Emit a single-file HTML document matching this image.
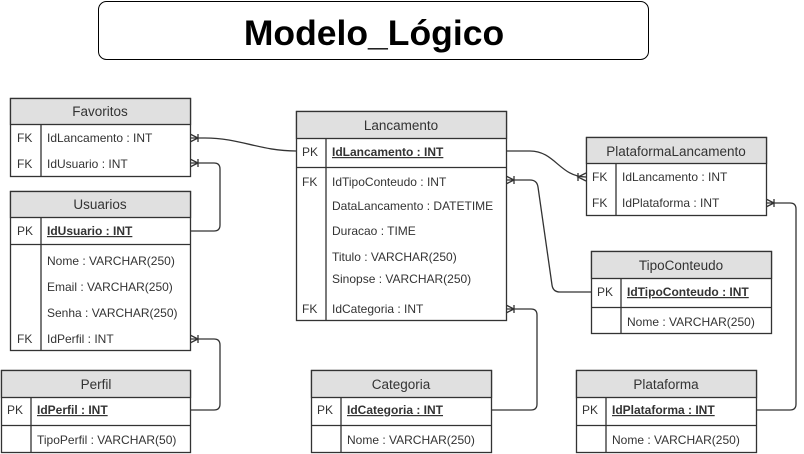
<!DOCTYPE html>
<html><head><meta charset="utf-8"><style>
html,body{margin:0;padding:0;background:#fff}
svg{display:block}
text{font-family:"Liberation Sans",Arial,sans-serif;font-size:12px;fill:#333}
.h{font-size:13.5px;text-anchor:middle}
.pk{font-weight:bold;text-decoration:underline}
</style></head><body>
<svg width="804" height="454" viewBox="0 0 804 454" xmlns="http://www.w3.org/2000/svg">
<rect x="98.5" y="1.5" width="550" height="58" rx="8" fill="#fff" stroke="#000"/>
<text x="374" y="45" style="font-size:35.5px;font-weight:bold;fill:#000;text-anchor:middle">Modelo_Lógico</text>

<g fill="none" stroke="#333" stroke-width="1.3">
<path d="M190,138 L205,138 C240,138 260,151 296,151"/>
<path d="M190,163 L214,163 Q220,163 220,169 L220,225 Q220,231 214,231 L190,231"/>
<path d="M190,339 L214,339 Q220,339 220,345 L220,404 Q220,410 214,410 L190,410"/>
<path d="M506,151 L530,151 C555,151 560,177 586,177"/>
<path d="M506,180 L530,180 Q537,180 538,187 L552,285 Q553,292 560,292 L591,292"/>
<path d="M506,309 L531,309 Q537,309 537,315 L537,404 Q537,410 531,410 L491,410"/>
<path d="M766,203 L790,203 Q796,203 796,209 L796,404 Q796,410 790,410 L756,410"/>
<path d="M190,134 L198,138 L190,142 M198,134 L198,142"/>
<path d="M190,159 L198,163 L190,167 M198,159 L198,167"/>
<path d="M190,335 L198,339 L190,343 M198,335 L198,343"/>
<path d="M506,176 L514,180 L506,184 M514,176 L514,184"/>
<path d="M506,305 L514,309 L506,313 M514,305 L514,313"/>
<path d="M766,199 L774,203 L766,207 M774,199 L774,207"/>
<path d="M586,173 L578,177 L586,181 M578,173 L578,181"/>
</g>

<g stroke="#333" stroke-width="1.3">
<rect x="10.5" y="98.5" width="180" height="78" fill="#fff"/>
<rect x="10.5" y="98.5" width="180" height="26" fill="#e0e0e0"/>
<line x1="41" y1="124.5" x2="41" y2="176.5"/>
<rect x="10.5" y="191.5" width="180" height="159" fill="#fff"/>
<rect x="10.5" y="191.5" width="180" height="26" fill="#e0e0e0"/>
<line x1="10.5" y1="244.5" x2="190.5" y2="244.5"/>
<line x1="41" y1="217.5" x2="41" y2="350.5"/>
<rect x="296.5" y="111.5" width="210" height="209" fill="#fff"/>
<rect x="296.5" y="111.5" width="210" height="27" fill="#e0e0e0"/>
<line x1="296.5" y1="167.5" x2="506.5" y2="167.5"/>
<line x1="326" y1="138.5" x2="326" y2="320.5"/>
<rect x="586.5" y="137.5" width="180" height="78" fill="#fff"/>
<rect x="586.5" y="137.5" width="180" height="26" fill="#e0e0e0"/>
<line x1="616" y1="163.5" x2="616" y2="215.5"/>
<rect x="591.5" y="251.5" width="180" height="82" fill="#fff"/>
<rect x="591.5" y="251.5" width="180" height="27" fill="#e0e0e0"/>
<line x1="591.5" y1="307.5" x2="771.5" y2="307.5"/>
<line x1="621" y1="278.5" x2="621" y2="333.5"/>
<rect x="1.5" y="370.5" width="189" height="82" fill="#fff"/>
<rect x="1.5" y="370.5" width="189" height="27" fill="#e0e0e0"/>
<line x1="1.5" y1="425.5" x2="190.5" y2="425.5"/>
<line x1="31" y1="397.5" x2="31" y2="452.5"/>
<rect x="311.5" y="370.5" width="180" height="82" fill="#fff"/>
<rect x="311.5" y="370.5" width="180" height="27" fill="#e0e0e0"/>
<line x1="311.5" y1="425.5" x2="491.5" y2="425.5"/>
<line x1="341" y1="397.5" x2="341" y2="452.5"/>
<rect x="576.5" y="370.5" width="180" height="82" fill="#fff"/>
<rect x="576.5" y="370.5" width="180" height="27" fill="#e0e0e0"/>
<line x1="576.5" y1="425.5" x2="756.5" y2="425.5"/>
<line x1="606" y1="397.5" x2="606" y2="452.5"/>
</g>

<text class="h" x="100" y="116">Favoritos</text>
<text x="17" y="142">FK</text><text x="47" y="142">IdLancamento : INT</text>
<text x="17" y="168">FK</text><text x="47" y="168">IdUsuario : INT</text>

<text class="h" x="100" y="209">Usuarios</text>
<text x="17" y="235">PK</text><text class="pk" x="47" y="235">IdUsuario : INT</text>
<text x="47" y="265">Nome : VARCHAR(250)</text>
<text x="47" y="291">Email : VARCHAR(250)</text>
<text x="47" y="317">Senha : VARCHAR(250)</text>
<text x="17" y="343">FK</text><text x="47" y="343">IdPerfil : INT</text>

<text class="h" x="401" y="130">Lancamento</text>
<text x="302" y="156">PK</text><text class="pk" x="332" y="156">IdLancamento : INT</text>
<text x="302" y="186">FK</text><text x="332" y="186">IdTipoConteudo : INT</text>
<text x="332" y="210">DataLancamento : DATETIME</text>
<text x="332" y="235">Duracao : TIME</text>
<text x="332" y="261">Titulo : VARCHAR(250)</text>
<text x="332" y="283">Sinopse : VARCHAR(250)</text>
<text x="302" y="313">FK</text><text x="332" y="313">IdCategoria : INT</text>

<text class="h" x="676" y="156">PlataformaLancamento</text>
<text x="592" y="181">FK</text><text x="622" y="181">IdLancamento : INT</text>
<text x="592" y="207">FK</text><text x="622" y="207">IdPlataforma : INT</text>

<text class="h" x="681" y="270">TipoConteudo</text>
<text x="597" y="296">PK</text><text class="pk" x="627" y="296">IdTipoConteudo : INT</text>
<text x="627" y="326">Nome : VARCHAR(250)</text>

<text class="h" x="96" y="389">Perfil</text>
<text x="7" y="414">PK</text><text class="pk" x="37" y="414">IdPerfil : INT</text>
<text x="37" y="444">TipoPerfil : VARCHAR(50)</text>

<text class="h" x="401" y="389">Categoria</text>
<text x="317" y="414">PK</text><text class="pk" x="347" y="414">IdCategoria : INT</text>
<text x="347" y="444">Nome : VARCHAR(250)</text>

<text class="h" x="666" y="389">Plataforma</text>
<text x="582" y="414">PK</text><text class="pk" x="612" y="414">IdPlataforma : INT</text>
<text x="612" y="444">Nome : VARCHAR(250)</text>
</svg>
</body></html>
